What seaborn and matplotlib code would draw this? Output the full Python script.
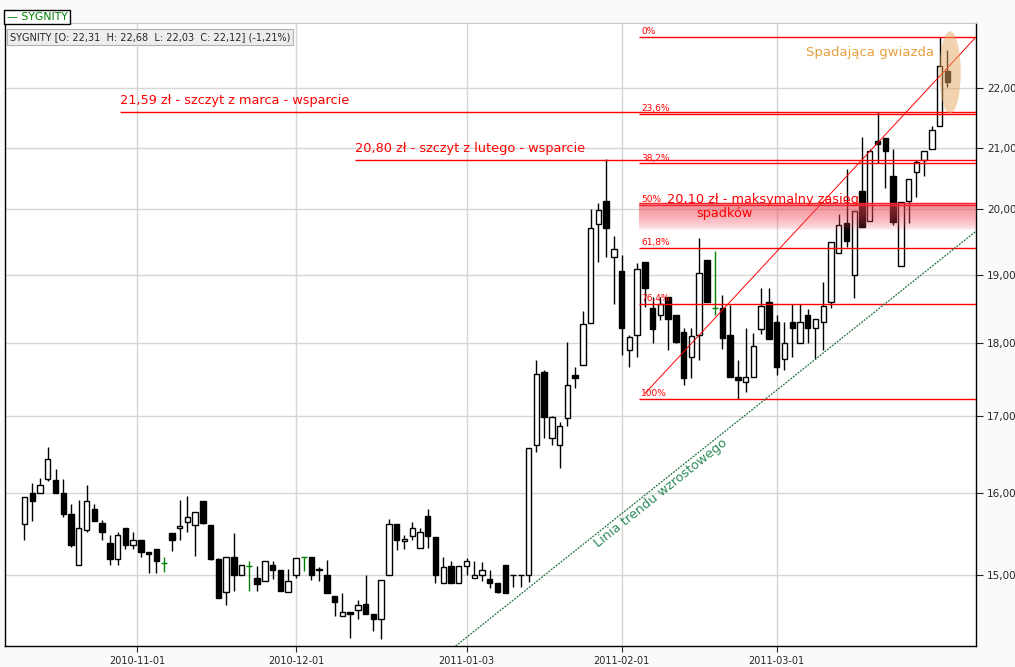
import numpy as np
import pandas as pd
import matplotlib
matplotlib.use('Agg')
import matplotlib.pyplot as plt
import seaborn as sns
from matplotlib.patches import Ellipse
from matplotlib.ticker import NullLocator

# ======================
# DATA (SYGNITY daily candles)
# ======================
opens = [15.61, 15.99, 16.00, 16.17, 16.16, 16.00, 15.73, 15.12, 15.54, 15.80,
         15.62, 15.38, 15.18, 15.56, 15.36, 15.41, 15.27, 15.31, 15.14, 15.50,
         15.56, 15.63, 15.60, 15.89, 15.60, 15.19, 14.80, 15.21, 15.00, 15.10,
         14.96, 14.93, 15.11, 15.06, 14.80, 15.00, 15.21, 15.21, 15.07, 15.00,
         14.75, 14.52, 14.56, 14.59, 14.66, 14.54, 14.48, 15.00, 15.61, 15.40,
         15.46, 15.32, 15.71, 15.45, 14.90, 15.10, 14.90, 15.10, 14.96, 14.99,
         14.95, 14.90, 15.11, 15.00, 14.99, 15.00, 16.61, 17.60, 16.71, 16.61,
         16.97, 17.56, 17.69, 18.29, 19.77, 20.13, 19.26, 19.05, 17.91, 18.11,
         19.19, 18.50, 18.40, 18.66, 18.40, 18.16, 17.81, 18.11, 19.22, 18.50,
         18.50, 18.11, 17.53, 17.46, 17.53, 18.20, 18.59, 18.30, 17.78, 18.30,
         18.00, 18.40, 18.21, 18.30, 18.60, 19.33, 19.78, 18.99, 20.29, 19.82,
         21.10, 21.16, 20.53, 19.13, 20.13, 20.60, 20.80, 20.98, 21.36, 22.31]
highs = [15.95, 16.12, 16.19, 16.58, 16.30, 16.17, 15.86, 15.91, 16.10, 15.86,
         15.66, 15.47, 15.51, 15.56, 15.51, 15.41, 15.27, 15.31, 15.21, 15.50,
         15.91, 15.96, 15.76, 15.89, 15.60, 15.20, 15.21, 15.50, 15.11, 15.16,
         15.10, 15.16, 15.16, 15.06, 15.07, 15.20, 15.21, 15.21, 15.09, 15.17,
         14.75, 14.78, 14.56, 14.70, 15.00, 14.54, 14.94, 15.67, 15.61, 15.48,
         15.64, 15.56, 15.80, 15.45, 15.21, 15.16, 15.10, 15.20, 15.16, 15.15,
         15.06, 14.90, 15.11, 15.00, 15.00, 16.57, 17.77, 17.62, 17.00, 16.92,
         18.01, 17.67, 18.46, 20.00, 20.10, 20.81, 19.58, 19.30, 18.11, 19.18,
         19.19, 18.66, 18.67, 18.66, 18.40, 18.22, 18.21, 19.55, 19.22, 19.36,
         18.69, 18.55, 17.76, 18.21, 18.14, 18.80, 18.80, 18.41, 18.30, 18.56,
         18.56, 18.49, 18.34, 18.89, 19.49, 19.93, 20.65, 19.97, 21.18, 20.98,
         21.59, 21.16, 20.98, 20.12, 20.48, 20.79, 20.94, 21.36, 22.91, 22.68]
lows = [15.42, 15.65, 16.00, 16.15, 16.00, 15.70, 15.33, 15.12, 15.51, 15.65,
        15.41, 15.11, 15.11, 15.31, 15.31, 15.21, 15.02, 15.02, 15.03, 15.28,
        15.42, 15.51, 15.22, 15.61, 15.17, 14.73, 14.64, 14.81, 15.00, 14.81,
        14.81, 14.93, 14.95, 14.81, 14.80, 14.96, 15.04, 14.94, 14.92, 14.78,
        14.52, 14.52, 14.27, 14.48, 14.54, 14.35, 14.26, 15.00, 15.29, 15.31,
        15.41, 15.32, 15.32, 14.90, 14.90, 14.90, 14.90, 14.99, 14.96, 14.93,
        14.84, 14.79, 14.79, 14.85, 14.85, 14.91, 16.52, 16.71, 16.61, 16.31,
        16.86, 17.37, 17.69, 18.29, 19.19, 19.26, 18.57, 17.83, 17.67, 17.81,
        18.52, 18.00, 18.33, 17.91, 18.00, 17.41, 17.51, 17.77, 18.60, 18.40,
        17.92, 17.53, 17.23, 17.32, 17.53, 18.13, 18.06, 17.56, 17.62, 17.80,
        18.00, 18.00, 17.78, 17.90, 18.50, 19.33, 19.42, 18.65, 19.72, 19.82,
        20.74, 20.34, 19.76, 19.13, 19.79, 20.20, 20.53, 20.98, 21.36, 22.03]
closes = [15.94, 15.90, 16.10, 16.43, 16.00, 15.73, 15.35, 15.56, 15.90, 15.65,
          15.51, 15.18, 15.47, 15.36, 15.41, 15.27, 15.25, 15.16, 15.14, 15.41,
          15.59, 15.70, 15.76, 15.62, 15.19, 14.73, 15.21, 15.00, 15.11, 15.10,
          14.89, 15.16, 15.06, 14.81, 14.93, 15.20, 15.21, 15.00, 15.06, 14.79,
          14.68, 14.56, 14.54, 14.65, 14.54, 14.48, 14.94, 15.61, 15.41, 15.43,
          15.56, 15.51, 15.46, 15.00, 15.09, 14.90, 15.10, 15.16, 14.99, 15.06,
          14.90, 14.80, 14.79, 14.99, 15.00, 16.57, 17.57, 16.98, 16.98, 16.86,
          17.42, 17.51, 18.28, 19.71, 19.99, 19.71, 19.39, 18.22, 18.09, 19.09,
          18.80, 18.20, 18.57, 18.34, 18.01, 17.51, 18.10, 19.03, 18.60, 18.50,
          18.07, 17.53, 17.49, 17.53, 17.96, 18.54, 18.06, 17.67, 18.00, 18.21,
          18.30, 18.21, 18.34, 18.53, 19.49, 19.75, 19.51, 19.97, 19.72, 20.95,
          21.05, 20.94, 19.81, 20.12, 20.48, 20.76, 20.94, 21.30, 22.39, 22.12]

# x tick labels (trading-day index where each month starts)
tick_pos = [14.5, 35, 57, 77, 97]
tick_labels = ['2010-11-01', '2010-12-01', '2011-01-03', '2011-02-01', '2011-03-01']
price_ticks = [15, 16, 17, 18, 19, 20, 21, 22]

support_levels = [21.59, 20.80]
support_texts = ['21,59 zł - szczyt z marca - wsparcie',
                 '20,80 zł - szczyt z lutego - wsparcie']
range_top, range_bottom = 20.10, 19.68
fib_ratios = [0, 0.236, 0.382, 0.5, 0.618, 0.764, 1.0]
fib_texts = ['0%', '23,6%', '38,2%', '50%', '61,8%', '76,4%', '100%']

df = pd.DataFrame({'o': opens, 'h': highs, 'l': lows, 'c': closes})
df['i'] = np.arange(len(df))

# ======================
# STYLE
# ======================
sns.set_style('white')
plt.rcParams['font.family'] = ['DejaVu Sans']

fig, ax = plt.subplots(figsize=(10.15, 6.67), dpi=100)
fig.patch.set_facecolor('#fafafa')
ax.set_facecolor('white')
fig.subplots_adjust(left=0.0054, right=0.9616, bottom=0.0315, top=0.966)

ax.set_yscale('log')
ax.set_ylim(14.18, 23.17)
ax.set_xlim(-2.45, 122.7)

# ======================
# CANDLES
# ======================
doji = df[df.o == df.c]
rest = df[df.o != df.c]
up = df[df.c > df.o]
down = df[df.c < df.o]

ax.vlines(rest.i, rest.l, rest.h, color='black', lw=1, zorder=2)
ax.vlines(doji.i, doji.l, doji.h, color='green', lw=1, zorder=2)
ax.hlines(doji.o, doji.i - 0.4, doji.i + 0.4, color='green', lw=1, zorder=3)
ax.bar(up.i, up.c - up.o, bottom=up.o, width=0.7, facecolor='white',
       edgecolor='black', lw=1, zorder=3)
ax.bar(down.i, down.o - down.c, bottom=down.c, width=0.7, facecolor='black',
       edgecolor='black', lw=1, zorder=3)

# ======================
# ANNOTATIONS
# ======================
xmax = ax.get_xlim()[1]
red = '#ff0000'

# support lines
for lvl, txt, start in zip(support_levels, support_texts, [12.3, 42.6]):
    ax.hlines(lvl, start, xmax, color=red, lw=1, zorder=4)
    ax.annotate(txt, (start, lvl), xytext=(0, 3.5), textcoords='offset points',
                color=red, fontsize=9.3, va='bottom', ha='left')

# fibonacci retracement
fib_hi = max(highs)
fib_lo = min(lows[77:])
fib_start = 79.3
for r, txt in zip(fib_ratios, fib_texts):
    lvl = fib_hi - r * (fib_hi - fib_lo)
    ax.hlines(lvl, fib_start, xmax, color=red, lw=1, zorder=4)
    ax.annotate(txt, (fib_start + 0.2, lvl), xytext=(0, 0.5),
                textcoords='offset points', color=red, fontsize=6.5,
                va='bottom', ha='left', zorder=6)

# 20,10 zone with gradient
ax.hlines(range_top, fib_start, xmax, color=red, lw=1, zorder=4)
edges = np.geomspace(range_top, range_bottom, 41)
for k in range(40):
    t = k / 40
    ax.fill_between([fib_start, xmax], edges[k + 1], edges[k],
                    color='#ee4050', alpha=0.6 * (1 - t) ** 0.55, lw=0, zorder=5)
ax.text(82.8, 20.16, '20,10 zł - maksymalny zasięg', color=red, fontsize=9.3,
        ha='left', va='center', zorder=6)
ax.text(86.6, 19.93, 'spadków', color=red, fontsize=9.3, ha='left',
        va='center', zorder=6)

# fan line from the low up to the top right
sns.lineplot(x=[80, xmax], y=[17.3, fib_hi], ax=ax, color=red, lw=0.7,
             zorder=4)

# rising trend line
sns.lineplot(x=[55.6, xmax], y=[14.18, 19.66], ax=ax, color='#1f6f3a',
             lw=0.9, linestyle=(0, (1.5, 1)), zorder=4)
ax.text(82.1, 16.0, 'Linia trendu wzrostowego', color='#2e8b57', fontsize=9.3,
        rotation=38.6, rotation_mode='anchor', ha='center', va='center')

# shooting star marker
cx, cy = ax.transAxes.inverted().transform(ax.transData.transform((119.35, 22.28)))
ax.add_patch(Ellipse((cx, cy), 0.022, 0.132, transform=ax.transAxes,
                     facecolor='#e8a860', alpha=0.5, lw=0, zorder=7))
ax.text(117.3, 22.64, 'Spadająca gwiazda', color='#e8a040', fontsize=9.5,
        ha='right', va='center')

# ======================
# AXES
# ======================
ax.yaxis.tick_right()
ax.yaxis.set_minor_locator(NullLocator())
ax.set_yticks(price_ticks)
ax.set_yticklabels([f'{v:.2f}'.replace('.', ',') for v in price_ticks])
ax.set_xticks(tick_pos)
ax.set_xticklabels(tick_labels)
ax.tick_params(axis='y', direction='out', length=5, labelsize=7.5, pad=3,
               right=True, left=False)
ax.tick_params(axis='x', direction='out', length=4, labelsize=7, pad=3,
               bottom=True)
ax.grid(True, color='#d6d6d6', lw=1)
ax.set_axisbelow(True)
for side in ['left', 'bottom', 'right']:
    ax.spines[side].set_color('black')
    ax.spines[side].set_linewidth(1)
ax.spines['top'].set_color('#c8c8c8')
ax.set_xlabel('')
ax.set_ylabel('')
if ax.get_legend():
    ax.get_legend().remove()

# header + legend
ax.text(0.0045, 0.985, 'SYGNITY [O: 22,31  H: 22,68  L: 22,03  C: 22,12] (-1,21%)',
        transform=ax.transAxes, fontsize=7.0, va='top', ha='left',
        bbox=dict(boxstyle='square,pad=0.3', facecolor='#ededed',
                  edgecolor='#b0b0b0', lw=0.8), zorder=8)
fig.text(0.0065, 0.982, '— SYGNITY', color='green', fontsize=7.8, va='top',
         ha='left', bbox=dict(boxstyle='square,pad=0.2', facecolor='white',
                              edgecolor='black', lw=1))

plt.savefig('out.png', dpi=100, facecolor=fig.get_facecolor())
plt.close()
